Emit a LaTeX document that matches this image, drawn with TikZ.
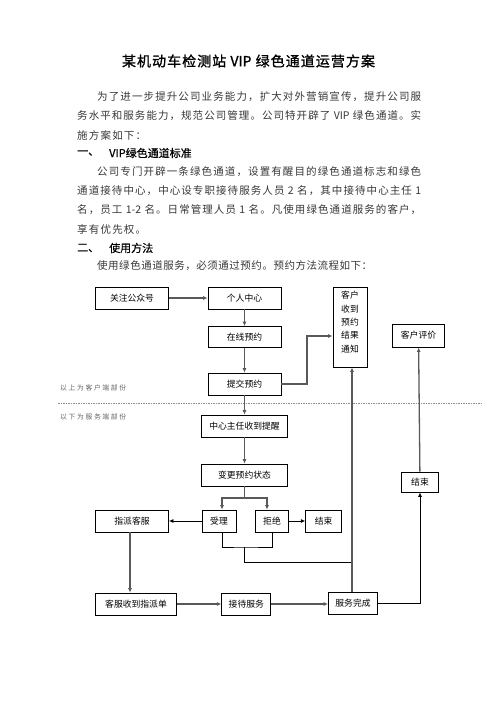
\documentclass[tikz,border=0pt]{standalone}
\usepackage{fontspec}
\usetikzlibrary{arrows.meta,calc}
\newfontfamily\cjk{Noto Sans CJK SC}
\newfontfamily\cjkb[FakeBold=1.2]{Noto Sans CJK SC}
\newfontfamily\cjkh[FakeBold=0.6]{Noto Sans CJK SC}
\ExplSyntaxOn
\NewDocumentCommand\jline{mm}{\hbox~to~#1~{\tl_map_inline:nn{#2}{##1\hfil}\unskip}}
\ExplSyntaxOff
\begin{document}
\begin{tikzpicture}[x=1pt,y=-1pt,
  box/.style={draw=black, line width=0.8pt, inner sep=0pt, font=\cjk\fontsize{8.8}{10}\selectfont, minimum height=22pt},
  body/.style={anchor=west, inner sep=0pt, font=\cjk\fontsize{10.5}{12}\selectfont, text=black!78},
  head/.style={anchor=west, inner sep=0pt, font=\cjkh\fontsize{11}{13}\selectfont},
  note/.style={anchor=west, inner sep=0pt, font=\cjk\fontsize{6.8}{8}\selectfont, text=black!60},
  thickarr/.style={line width=1.3pt, draw=black!65, -{Latex[length=4.5pt,width=4pt]}},
  thinarr/.style={line width=0.8pt, -{Latex[length=4.5pt,width=4pt]}},
  thickln/.style={line width=1.3pt, draw=black!65},
  thinln/.style={line width=0.8pt}]
\fill[white] (0,0) rectangle (496,702);
\useasboundingbox (0,0) rectangle (496,702);

% title and text
\node[inner sep=0pt, font=\cjkb\fontsize{14}{16}\selectfont] (title) at (248.5,61) {\jline{253pt}{某机动车检测站{ VIP }绿色通道运营方案}};
\node[body] (l1) at (97,97) {\jline{324pt}{为了进一步提升公司业务能力，扩大对外营销宣传，提升公司服}};
\node[body] (l2) at (77,116) {\jline{344pt}{务水平和服务能力，规范公司管理。公司特开辟了{ VIP }绿色通道。实}};
\node[body] (l3) at (77,135) {\jline{69pt}{施方案如下：}};
\node[head] (h1a) at (77,153) {一、};
\node[head] (h1b) at (109,153) {VIP绿色通道标准};
\node[body] (p1) at (97,172) {\jline{324pt}{公司专门开辟一条绿色通道，设置有醒目的绿色通道标志和绿色}};
\node[body] (p2) at (77,191) {\jline{344pt}{通道接待中心，中心设专职接待服务人员{ 2 }名，其中接待中心主任{ 1}}};
\node[body] (p3) at (77,210) {\jline{344pt}{名，员工{ 1-2 }名。日常管理人员{ 1 }名。凡使用绿色通道服务的客户，}};
\node[body] (p4) at (77,229) {\jline{69pt}{享有优先权。}};
\node[head] (h2a) at (77,248) {二、};
\node[head] (h2b) at (109,248) {使用方法};
\node[body] (l4) at (97,266) {\jline{275pt}{使用绿色通道服务，必须通过预约。预约方法流程如下：}};

% section notes and divider
\node[note] (n1) at (60,388) {\jline{66pt}{以上为客户端部份}};
\node[note] (n2) at (60,417) {\jline{66pt}{以下为服务端部份}};
\draw[black!45, line width=0.5pt, dash pattern=on 1.5pt off 1pt] (58,403) -- (482,403);

% boxes
\node[box, minimum width=73pt] (gz) at (132,298) {关注公众号};
\node[box, minimum width=73pt] (gr) at (244.5,298) {个人中心};
\node[box, minimum width=73pt, minimum height=21pt] (zx) at (244.5,337) {在线预约};
\node[box, minimum width=73pt] (tj) at (244.5,384) {提交预约};
\node[box, minimum width=34pt, minimum height=80pt, align=center, font=\cjk\fontsize{8.8}{13.3}\selectfont] (kh) at (350,327) {客户\\收到\\预约\\结果\\通知\\[-3pt]\mbox{}};
\node[box, minimum width=52pt, minimum height=23pt] (pj) at (418.5,335.5) {客户评价};
\node[box, minimum width=86pt] (zr) at (244.5,426) {中心主任收到提醒};
\node[box, minimum width=86pt] (bg) at (244.5,475) {变更预约状态};
\node[box, minimum width=34pt] (sl) at (219,521) {受理};
\node[box, minimum width=33pt] (jj) at (272,521) {拒绝};
\node[box, minimum width=36pt] (js1) at (323.7,521) {结束};
\node[box, minimum width=73pt] (zp) at (132,521) {指派客服};
\node[box, minimum width=37pt, minimum height=20pt] (js2) at (420,482) {结束};
\node[box, minimum width=81pt] (kf) at (136,604) {客服收到指派单};
\node[box, minimum width=49pt] (jd) at (246.3,604) {接待服务};
\node[box, minimum width=49pt] (wc) at (353,603) {服务完成};

% connectors
\coordinate (c1) at (307,336);
\coordinate (br) at (244.5,498);
\coordinate (bk) at (244.5,547);
\coordinate (jn) at (352,562);

\draw[thickarr] (gz) -- (gr);
\draw[thickarr] (gr) -- (zx);
\draw[thickarr] (zx) -- (tj);
\draw[thickarr] (tj.east) -| (c1) -- (kh.west |- c1);
\draw[thickarr] (tj) -- (zr);
\draw[thickarr] (zr) -- (bg);
\draw[thickln] (bg.south) -- (br);
\draw[thickarr] (br) -| ([xshift=3pt]sl.north);
\draw[thickarr] (br) -| ([xshift=-5pt]jj.north);
\draw[thinarr] (sl) -- (zp);
\draw[thinarr] (jj) -- (js1);
\draw[thinln] ([xshift=3pt]sl.south) |- (bk) -| (jj.south);
\draw[thinln] (bk) |- (jn);
\draw[thickarr] (wc.north -| jn) -- (kh.south -| jn);
\draw[thickarr] ([xshift=-2pt]zp.south) -- ([xshift=-2pt]zp.south |- kf.north);
\draw[thickarr] (kf.east) -- (kf.east -| jd.west);
\draw[thickarr] (jd.east) -- (jd.east -| wc.west);
\draw[thinarr] (wc.east) -| (js2.south);
\draw[thickarr] (js2) -- (pj);
\end{tikzpicture}
\end{document}
